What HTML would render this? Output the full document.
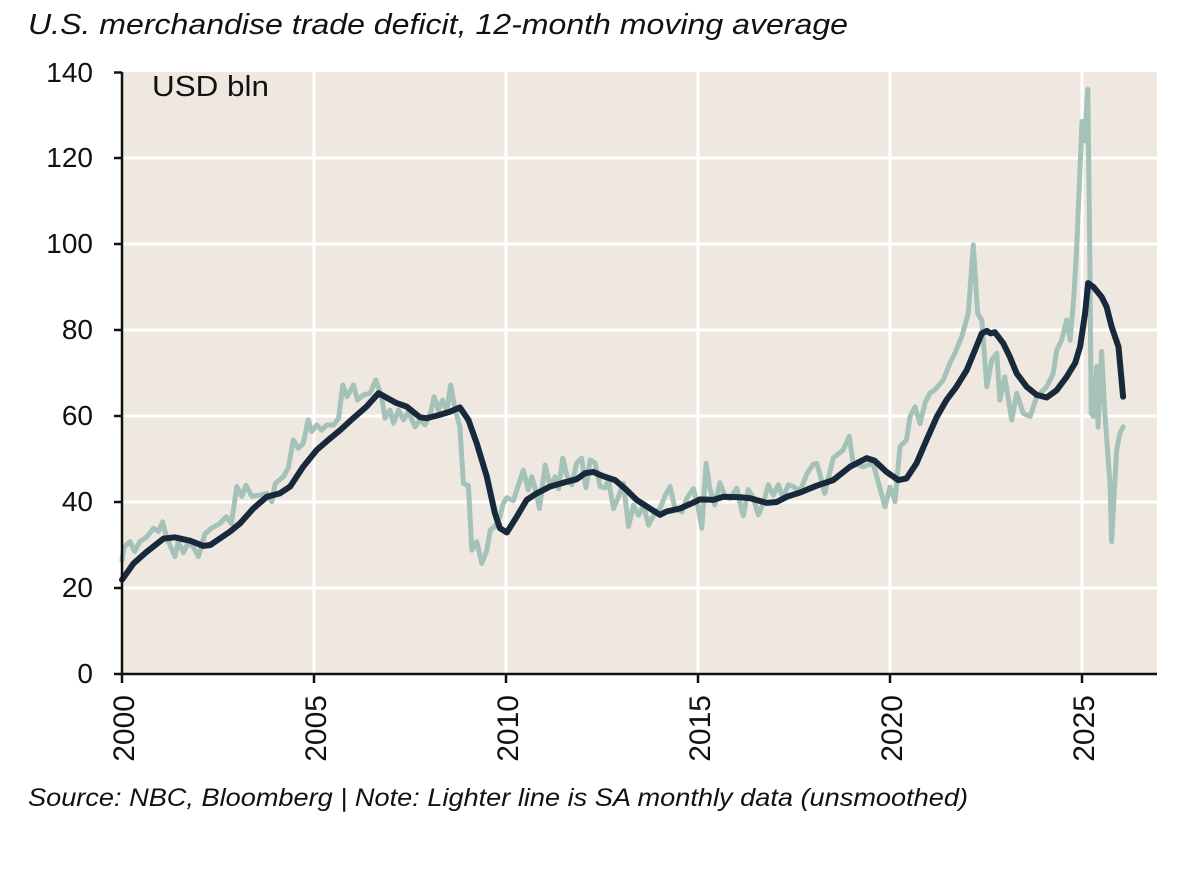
<!DOCTYPE html>
<html>
<head>
<meta charset="utf-8">
<style>
  html,body{margin:0;padding:0;background:#ffffff;}
  svg{display:block;}
  text{font-family:"Liberation Sans","DejaVu Sans",sans-serif;fill:#111111;}
</style>
</head>
<body>
<svg width="1200" height="876" viewBox="0 0 1200 876" xmlns="http://www.w3.org/2000/svg">
  <rect x="0" y="0" width="1200" height="876" fill="#ffffff"/>
  <text x="28" y="34" font-size="29" font-style="italic" textLength="820" lengthAdjust="spacingAndGlyphs">U.S. merchandise trade deficit, 12-month moving average</text>

  <rect x="122" y="72" width="1035" height="602" fill="#eee8e1"/>

  <g stroke="#ffffff" stroke-width="3">
    <line x1="122" y1="588" x2="1157" y2="588"/>
    <line x1="122" y1="502" x2="1157" y2="502"/>
    <line x1="122" y1="416" x2="1157" y2="416"/>
    <line x1="122" y1="330" x2="1157" y2="330"/>
    <line x1="122" y1="244" x2="1157" y2="244"/>
    <line x1="122" y1="158" x2="1157" y2="158"/>
    <line x1="314" y1="72" x2="314" y2="674"/>
    <line x1="506" y1="72" x2="506" y2="674"/>
    <line x1="698" y1="72" x2="698" y2="674"/>
    <line x1="890" y1="72" x2="890" y2="674"/>
    <line x1="1082" y1="72" x2="1082" y2="674"/>
  </g>

  <text x="152" y="96" font-size="29" textLength="117" lengthAdjust="spacingAndGlyphs">USD bln</text>

  <polyline fill="none" stroke="#a5c2b9" stroke-width="5" stroke-linejoin="round" stroke-linecap="round"
    points="122,560.5 123.9,547.2 130.1,541.6 134.7,551.5 139.7,541.6 146.6,537.3 153.5,528.2 158.5,531.7 162.7,521.8 166.5,537.3 175,556.6 178.1,541.6 183.4,552.7 188,542.9 193,546.3 198.4,556.6 204.9,533.8 211.5,528.2 219.9,523.5 226.4,516.6 231.4,523.5 236.8,486.5 241.8,496.4 246,485.2 251.8,496.4 260.2,495.1 266.8,493.4 271.8,501.6 275.2,483.5 283.3,476.6 288.3,468 293.3,440.1 298.3,448.3 303.2,443.5 308.2,419.9 311.7,431.5 316.7,425 321.7,430.2 326.7,425 333.6,425 338.6,418.2 342.8,385 347,396.7 353.6,385 357.4,400.1 363.5,394.9 370.1,393.2 375.8,379.9 381.6,396.7 385,418.2 390,410 393.5,423.3 398.5,410 403.5,419.9 408.5,411.7 415,426.8 420,419.9 425,425 430,415.1 434.2,396.7 438.4,410 442.6,400.1 446.9,410 450.7,385 454.9,408.3 459.9,426.8 463.4,483.5 468.4,485.7 471.8,550.2 476.8,541.6 481.8,563.5 486.8,550.2 490.3,530 494.9,526.5 499.9,516.6 503.3,503.3 506.8,497.7 513.3,500.7 523.3,470.2 528.3,490 531.7,476.6 535.2,488.7 539.4,508.5 545.2,465 550.2,486.5 555.2,476.6 558.6,488.7 562.8,458.1 566.7,474.9 571.7,484.8 576.7,462.9 581.6,458.1 585.9,487.8 590.1,459.9 595.1,462.9 600.1,486.5 605.1,487.8 608.5,480.1 613.5,508.5 618.5,496.8 623.5,483.5 628.5,526.5 633.5,505.4 638.5,515.3 643.5,505.4 648.5,525.2 653.5,515.3 660,508.5 665,496 670,486.5 675,508.5 681.9,511.9 686.9,498.1 693.4,488.7 698.4,508.5 701.8,528.2 706.1,463.3 709.9,488.7 714.9,505 719.9,482.7 724.9,496 729.9,498.6 736.8,488.2 739.9,502.9 743.3,515.8 748.3,489.5 753.3,498.1 758.3,514.9 763.3,502.9 768.3,484.8 773.3,495.1 778.3,484.8 783.2,498.1 788.2,484.8 793.2,486.5 800.1,491.3 806.7,474.1 813.2,464.2 816.7,463.3 820.1,474.9 824.7,493.4 833.2,458.1 843.2,450 849.3,436.2 853.1,463.3 863.1,466.7 873.1,463.3 885,506.7 890,487 895,501.6 900,446.5 906.5,440.1 910,416.9 915,407 920,423.7 925,403.1 929.9,393.2 934.9,389.8 943.4,379.9 949.9,363.1 954.9,353.2 961.8,336.5 968.3,313.2 973.3,244.9 977.6,313.2 981.8,320.1 986.8,386.8 991.8,360.1 996.8,353.2 999.8,400.1 1004.8,376.9 1011.7,419.9 1016.7,393.2 1023.2,413.4 1030.2,416.4 1036.7,396.7 1046.7,386.8 1053.2,373.4 1056.7,350.2 1061.6,340.3 1066.6,320.1 1070.1,340.3 1073.6,299.9 1076.6,250 1080.1,166.6 1082,121.5 1084.7,140.8 1087.8,89.2 1089.7,244 1091.2,413.4 1093.5,416.4 1096.6,366.6 1098.1,427.2 1101.6,351.5 1105,416 1110,483.5 1111.6,541.6 1116.6,450.4 1120,433.2 1123.1,426.8"/>

  <polyline fill="none" stroke="#17293a" stroke-width="6" stroke-linejoin="round" stroke-linecap="round"
    points="122,579.8 133.5,563.5 146.6,551.9 163.5,538.6 174.6,537.3 190,540.7 203.4,545.9 210.3,545 229.9,531.7 239.9,523.5 253.3,508.5 266.8,496.8 279.8,493.4 290.2,486.5 303.2,466.7 316.7,450 330.1,438.4 340.1,430.2 353.2,418.2 366.6,406.5 378.5,393.2 387,397.9 396.6,403.1 406.5,406.5 420,417.3 426.5,418.2 436.9,415.6 449.9,411.7 459.9,407.4 468.4,419.9 476.8,443.5 486.8,476.6 494.9,513.2 499.9,528.2 506.8,532.5 516.8,516.6 526.7,499.9 536.7,493.4 550.2,486.5 566.7,481.8 576.7,479.2 585.1,473.2 593.2,471.9 603.2,476.2 615.1,480.1 626.6,490 636.6,499.9 650,508.5 660,514.9 666.5,511.5 680,508.5 691.9,503.3 699.9,499.4 713.4,499.9 723.3,496.8 739.9,497.3 749.8,498.1 766.7,502.9 776.7,502 786.7,496.8 800.1,492.5 816.7,485.7 833.2,480.1 850.1,466.7 866.6,458.1 874.6,460.7 886.5,471.9 898.4,480.1 906.5,478.4 916.5,463.3 926.5,440.1 936.8,416.9 946.4,400.1 956.4,386.8 966.8,370 974.9,350.2 981.8,333.4 986.8,330.9 990.6,333.4 994.8,332.2 1003.3,343.3 1009.8,356.7 1016.7,373.4 1026.7,386.8 1036.7,394.9 1046.7,397.5 1056.7,390.2 1066.6,376.9 1075.1,363.1 1080.1,346.8 1085.1,313.2 1088.1,283.1 1093.5,287 1101.6,296.9 1106.6,306.8 1111.6,326.6 1118.5,346.8 1123.1,396.7"/>

  <g stroke="#111111" stroke-width="2.5" fill="none">
    <line x1="122" y1="72" x2="122" y2="675"/>
    <line x1="121" y1="674" x2="1157" y2="674"/>
    <line x1="114" y1="72.5" x2="122" y2="72.5"/>
    <line x1="114" y1="158" x2="122" y2="158"/>
    <line x1="114" y1="244" x2="122" y2="244"/>
    <line x1="114" y1="330" x2="122" y2="330"/>
    <line x1="114" y1="416" x2="122" y2="416"/>
    <line x1="114" y1="502" x2="122" y2="502"/>
    <line x1="114" y1="588" x2="122" y2="588"/>
    <line x1="114" y1="674" x2="122" y2="674"/>
    <line x1="122" y1="674" x2="122" y2="683"/>
    <line x1="314" y1="674" x2="314" y2="683"/>
    <line x1="506" y1="674" x2="506" y2="683"/>
    <line x1="698" y1="674" x2="698" y2="683"/>
    <line x1="890" y1="674" x2="890" y2="683"/>
    <line x1="1082" y1="674" x2="1082" y2="683"/>
  </g>

  <g font-size="28" text-anchor="end">
    <text x="93" y="82">140</text>
    <text x="93" y="167">120</text>
    <text x="93" y="253">100</text>
    <text x="93" y="339">80</text>
    <text x="93" y="425">60</text>
    <text x="93" y="511">40</text>
    <text x="93" y="597">20</text>
    <text x="93" y="683">0</text>
  </g>

  <g font-size="30" text-anchor="end">
    <text transform="translate(134,695) rotate(-90)">2000</text>
    <text transform="translate(326,695) rotate(-90)">2005</text>
    <text transform="translate(518,695) rotate(-90)">2010</text>
    <text transform="translate(710,695) rotate(-90)">2015</text>
    <text transform="translate(902,695) rotate(-90)">2020</text>
    <text transform="translate(1094,695) rotate(-90)">2025</text>
  </g>

  <text x="28" y="806" font-size="25" font-style="italic" textLength="940" lengthAdjust="spacingAndGlyphs">Source: NBC, Bloomberg | Note: Lighter line is SA monthly data (unsmoothed)</text>
</svg>
</body>
</html>
